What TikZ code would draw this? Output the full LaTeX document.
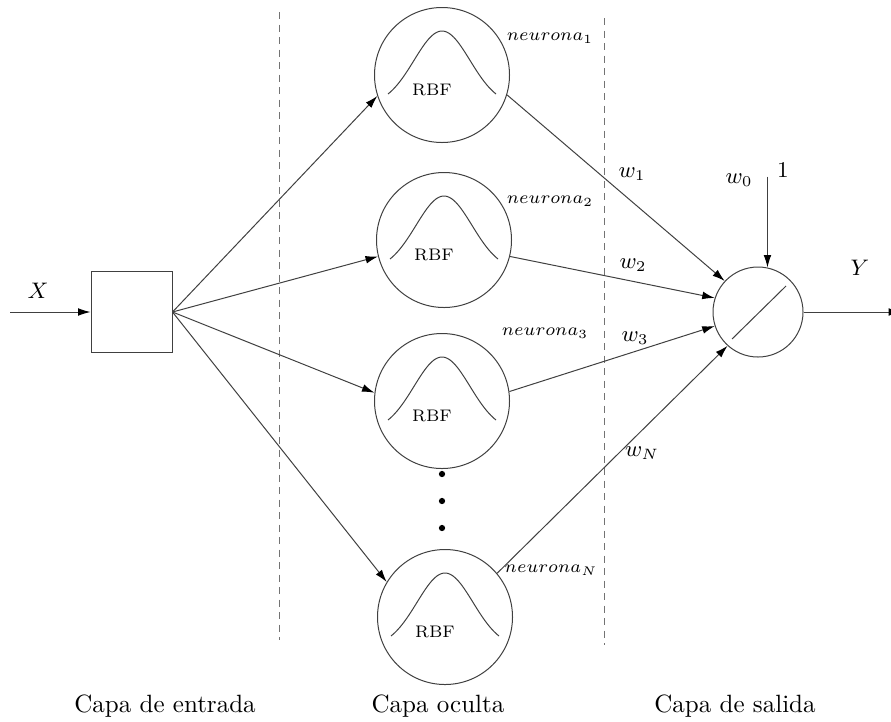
\documentclass[tikz,border=0pt]{standalone}
\usetikzlibrary{arrows.meta}
\begin{document}
\begin{tikzpicture}[x=0.4pt,y=-0.4pt,line width=0.4pt,draw=black!75,
  neuron/.style={draw,circle,minimum size=54pt,inner sep=0pt},
  outneuron/.style={draw,circle,minimum size=36pt,inner sep=0pt},
  inbox/.style={draw,minimum size=32.4pt,inner sep=0pt},
  arr/.style={-{Latex[length=5pt,width=3.1pt,color=black]}},
  layersep/.style={draw=black!55,dash pattern=on 2.8pt off 2.2pt},
  rbftext/.style={font=\fontsize{6.7}{8}\selectfont,inner sep=0pt},
  neurlabel/.style={font=\fontsize{7.4}{9}\selectfont,inner sep=0pt},
  wlabel/.style={font=\fontsize{9}{11}\selectfont,inner sep=0pt},
  layerlabel/.style={font=\fontsize{10}{12}\selectfont,inner sep=0pt}]
\useasboundingbox (0,0) rectangle (891,721);

% layer separators
\draw[layersep] (279,12) -- (279,640);
\draw[layersep] (604,18) -- (604,645);

% input layer
\node[inbox] (box) at (131.5,312) {};
\coordinate (xin) at (10,312);
\draw[arr] (xin) -- (box.west);
\node[wlabel] (xlab) at (38,291) {$X$};

% hidden layer
\node[neuron] (n1) at (442,75) {};
\node[neuron] (n2) at (444,240) {};
\node[neuron] (n3) at (442,401) {};
\node[neuron] (nN) at (445,617) {};
\foreach \n in {n1,n2,n3,nN}{
  \begin{scope}[shift={(\n.center)}]
    \draw plot[domain=-54:54,samples=60,smooth] (\x,{30.6-74.6*exp(-((\x)*(\x))/1568)});
    \node[rbftext] (\n-rbf) at (-10,15) {RBF};
  \end{scope}
}
\node[neurlabel] (l1) at (550,38) {$neurona_1$};
\node[neurlabel] (l2) at (550,201) {$neurona_2$};
\node[neurlabel] (l3) at (545,333) {$neurona_3$};
\node[neurlabel] (lN) at (551,570) {$neurona_N$};

% vertical ellipsis
\fill (442,474) circle (1.25pt);
\fill (442,501) circle (1.25pt);
\fill (442,528) circle (1.25pt);

% output layer
\node[outneuron] (out) at (758,312) {};
\draw ([shift={(-26,27)}]out.center) -- ([shift={(28,-26)}]out.center);
\path (out.78) ++(0,-91) coordinate (one);
\draw[arr] (one) -- (out.78);
\node[wlabel] (onelab) at (783,170) {$1$};
\node[wlabel] (w0) at (739,180) {$w_0$};
\coordinate (yout) at (901,312);
\draw[arr] (out.east) -- (yout);
\node[wlabel] (ylab) at (860,268) {$Y$};

% input to hidden
\draw[arr] (box.east) -- (n1.198);
\draw[arr] (box.east) -- (n2.194);
\draw[arr] (box.east) -- (n3.173);
\draw[arr] (box.east) -- (nN.149);

% hidden to output
\draw[arr] (n1.-17) -- (out.137);
\draw[arr] (n2.-14) -- (out.162);
\draw[arr] (n3.8) -- (out.198);
\draw[arr] (nN.40) -- (out.228);
\node[wlabel] (w1) at (632,174) {$w_1$};
\node[wlabel] (w2) at (633,265) {$w_2$};
\node[wlabel] (w3) at (635,338) {$w_3$};
\node[wlabel] (wN) at (642,453) {$w_N$};

% layer names
\node[layerlabel] (c1) at (165,706) {Capa de entrada};
\node[layerlabel] (c2) at (438,706) {Capa oculta};
\node[layerlabel] (c3) at (735,706) {Capa de salida};
\end{tikzpicture}
\end{document}
